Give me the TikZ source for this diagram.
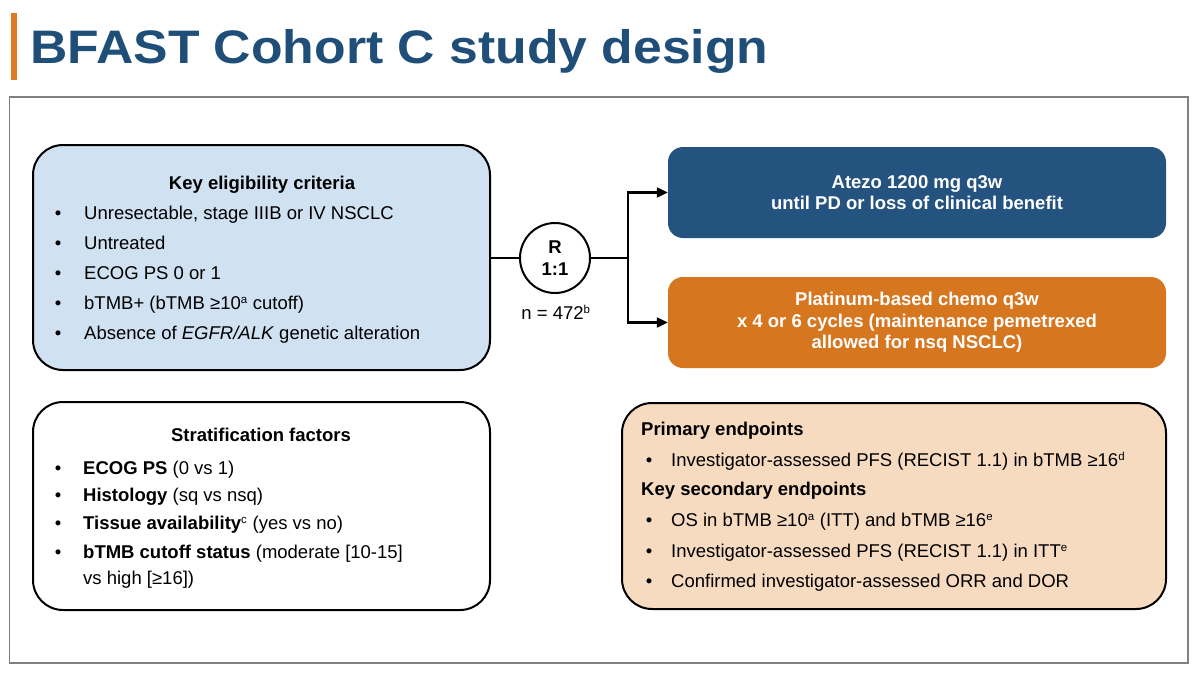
\documentclass[tikz,border=0pt]{standalone}
\usepackage{fontspec}
\setmainfont{Liberation Sans}
\newfontfamily\titlefont{Liberation Sans}[FakeStretch=1.1]
\usetikzlibrary{arrows.meta}
\definecolor{titleblue}{HTML}{1F4E79}
\definecolor{accent}{HTML}{E07B22}
\definecolor{framegray}{HTML}{808080}
\definecolor{lightblue}{HTML}{D0E1F2}
\definecolor{darkblue}{HTML}{255380}
\definecolor{chemoorange}{HTML}{D6761F}
\definecolor{peach}{HTML}{F7DBC1}
\newcommand\supx[1]{\textsuperscript{\fontsize{11.5}{12}\selectfont #1}}
\tikzset{
  panel/.style={draw=black, line width=2pt, rounded corners=30pt, inner sep=0pt},
  armbox/.style={rounded corners=15pt, text=white, align=center, inner sep=0pt,
    minimum width=498pt, minimum height=91pt,
    font=\bfseries\fontsize{18.5}{21.5}\selectfont},
  txt/.style={inner sep=0pt, font=\fontsize{18.5}{21.5}\selectfont},
  item/.style={txt, anchor=base west},
  bul/.style={txt, anchor=base},
  head/.style={txt, anchor=base, font=\bfseries\fontsize{18.5}{21.5}\selectfont},
  lhead/.style={txt, anchor=base west, font=\bfseries\fontsize{18.5}{21.5}\selectfont},
  conn/.style={draw=black, line width=2.2pt},
  arr/.style={conn, -{Triangle[length=11pt,width=10pt]}}
}
\begin{document}
\begin{tikzpicture}[x=1pt,y=-1pt]
\useasboundingbox (0,0) rectangle (1200,675);
\fill[white] (0,0) rectangle (1200,675);
% title
\node[fill=accent, minimum width=6pt, minimum height=67pt, inner sep=0pt] (bar) at (14,46.5) {};
\node[anchor=base west, inner sep=0pt, text=titleblue,
  font=\titlefont\bfseries\fontsize{47}{50}\selectfont] (title) at (30,63) {BFAST Cohort C study design};
% frame
\draw[framegray, line width=1.5pt] (9.5,97) rectangle (1188,663);

% eligibility box
\node[panel, fill=lightblue, minimum width=457pt, minimum height=225pt] (elig) at (261.5,257.5) {};
\node[head] (eligh) at (262,189.5) {Key eligibility criteria};
\node[bul] (eb1) at (58,219.5) {•};
\node[item] (e1) at (84,219.5) {Unresectable, stage IIIB or IV NSCLC};
\node[bul] (eb2) at (58,249.5) {•};
\node[item] (e2) at (84,249.5) {Untreated};
\node[bul] (eb3) at (58,279.5) {•};
\node[item] (e3) at (84,279.5) {ECOG PS 0 or 1};
\node[bul] (eb4) at (58,309.5) {•};
\node[item] (e4) at (84,309.5) {bTMB+ (bTMB ≥10\supx{a} cutoff)};
\node[bul] (eb5) at (58,339.5) {•};
\node[item] (e5) at (84,339.5) {Absence of \textit{EGFR/ALK} genetic alteration};

% stratification box
\node[panel, fill=white, minimum width=457pt, minimum height=208pt] (strat) at (261.5,506) {};
\node[head] (strath) at (261,441.5) {Stratification factors};
\node[bul] (sb1) at (58,474.5) {•};
\node[item] (s1) at (83,474.5) {\textbf{ECOG PS} (0 vs 1)};
\node[bul] (sb2) at (58,501.5) {•};
\node[item] (s2) at (83,501.5) {\textbf{Histology} (sq vs nsq)};
\node[bul] (sb3) at (58,529.5) {•};
\node[item] (s3) at (83,529.5) {\textbf{Tissue availability}\supx{c} (yes vs no)};
\node[bul] (sb4) at (58,558.5) {•};
\node[item] (s4) at (83,558.5) {\textbf{bTMB cutoff status} (moderate [10-15]};
\node[item] (s4b) at (83,584.5) {vs high [≥16])};

% randomisation
\node[draw=black, line width=2pt, circle, minimum size=70pt, inner sep=0pt, fill=white] (rnd) at (555,258) {};
\node[head] (rR) at (555,253.5) {R};
\node[head] (r11) at (555,275.5) {1:1};
\node[txt, anchor=base] (nn) at (556,319.5) {n = 472\supx{b}};

% arms
\node[armbox, fill=darkblue] (atezo) at (917,192.5) {Atezo 1200 mg q3w\\until PD or loss of clinical benefit};
\node[armbox, fill=chemoorange] (chemo) at (917,322.5) {Platinum-based chemo q3w\\x 4 or 6 cycles (maintenance pemetrexed\\allowed for nsq NSCLC)};

% connectors
\coordinate (split) at (628,258);
\draw[conn] (elig.east |- rnd.west) -- (rnd.west);
\draw[conn] (rnd.east) -- (split);
\draw[arr] (split) |- (atezo.west);
\draw[arr] (split) |- (chemo.west);

% endpoints box
\node[panel, fill=peach, minimum width=544pt, minimum height=206pt] (endp) at (894,506) {};
\node[lhead] (ph) at (641,435.5) {Primary endpoints};
\node[bul] (pb1) at (649,466.5) {•};
\node[item] (p1) at (671,466.5) {Investigator-assessed PFS (RECIST 1.1) in bTMB ≥16\supx{d}};
\node[lhead] (kh) at (641,495.5) {Key secondary endpoints};
\node[bul] (kb1) at (649,526.5) {•};
\node[item] (k1) at (671,526.5) {OS in bTMB ≥10\supx{a} (ITT) and bTMB ≥16\supx{e}};
\node[bul] (kb2) at (649,557.5) {•};
\node[item] (k2) at (671,557.5) {Investigator-assessed PFS (RECIST 1.1) in ITT\supx{e}};
\node[bul] (kb3) at (649,587.5) {•};
\node[item] (k3) at (671,587.5) {Confirmed investigator-assessed ORR and DOR};
\end{tikzpicture}
\end{document}
